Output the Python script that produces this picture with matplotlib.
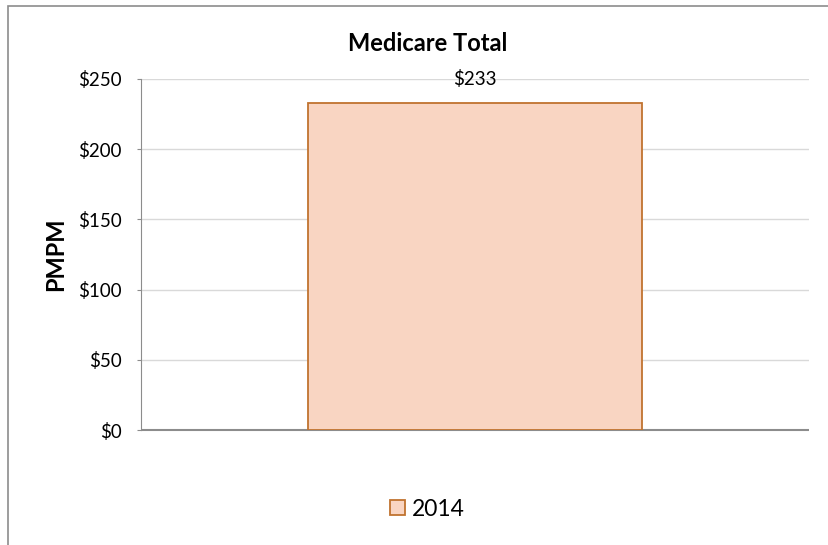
import matplotlib.pyplot as plt
from matplotlib.patches import Rectangle

categories = ['2014']
values = [233]
yticks = [0, 50, 100, 150, 200, 250]

plt.rcParams['font.family'] = ['Lato', 'DejaVu Sans']

fig = plt.figure(figsize=(8.29, 5.45), dpi=100)
ax = fig.add_axes([141 / 829, 1 - 430 / 545, 668 / 829, 351 / 545])

# outer chart border (runs off the right and bottom edges)
fig.patches.append(Rectangle((8 / 829, -0.05), 1.1, 1 - 6 / 545 + 0.05,
                             transform=fig.transFigure, fill=False,
                             edgecolor='#8c8c8c', linewidth=1.2))

bars = ax.bar([0], values, width=1.0, color='#f9d5c2', edgecolor='#c0732f',
              linewidth=1.3, label=categories[0], zorder=3)
for bar, v in zip(bars, values):
    ax.annotate(f'${v}', (bar.get_x() + bar.get_width() / 2, v),
                xytext=(0, 13), textcoords='offset points',
                ha='center', va='baseline', fontsize=13.5, zorder=4)

ax.set_xlim(-1, 1)
ax.set_ylim(0, 250)
ax.set_yticks(yticks)
ax.set_yticklabels([f'${t}' for t in yticks], fontsize=13.5)
ax.set_xticks([])
ax.grid(axis='y', color='#d9d9d9', linewidth=1, zorder=0)

for s in ['top', 'right']:
    ax.spines[s].set_visible(False)
ax.spines['left'].set_color('#8c8c8c')
ax.spines['bottom'].set_color('#8c8c8c')
ax.spines['bottom'].set_linewidth(1.5)
ax.spines['bottom'].set_capstyle('butt')
ax.tick_params(axis='y', length=3, color='#8c8c8c', pad=11)

fig.text(56 / 829, 1 - 254 / 545, 'PMPM', rotation=90, ha='center', va='center',
         fontsize=17, fontweight='bold')
fig.text(0.516, 1 - 51 / 545, 'Medicare Total', ha='center', va='baseline',
         fontsize=17, fontweight='bold')

fig.legend(loc='center', bbox_to_anchor=(427 / 829, 1 - 509 / 545), frameon=False,
           fontsize=16.5, handlelength=0.65, handleheight=0.65, handletextpad=0.3)

fig.savefig('out.png', dpi=100)
